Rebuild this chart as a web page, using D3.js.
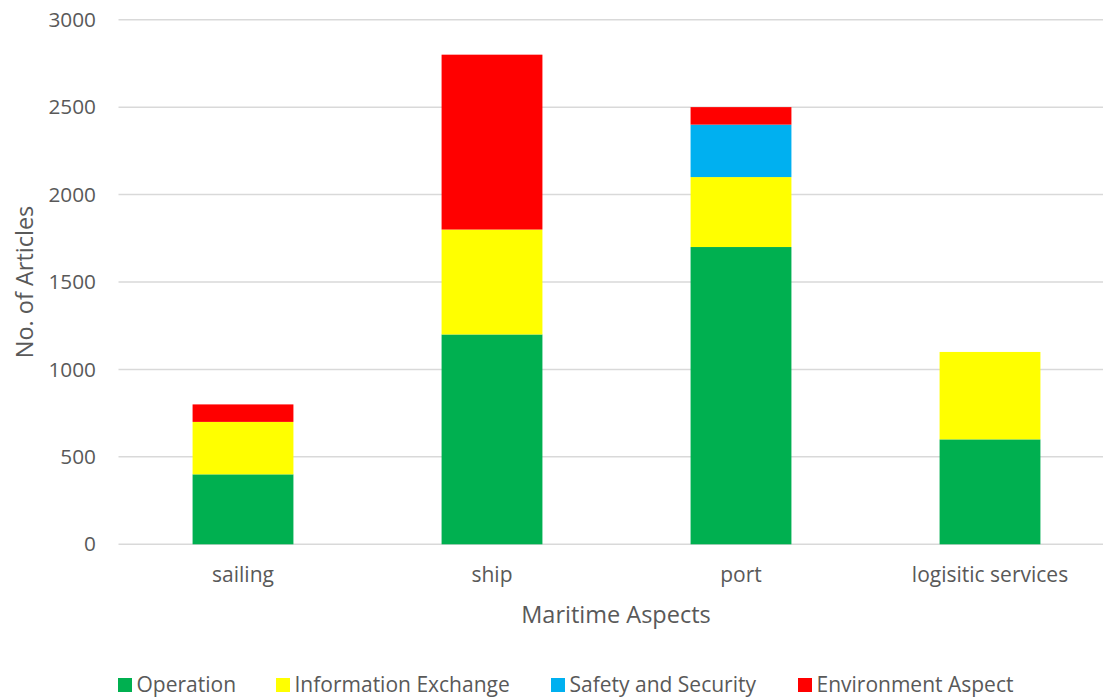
<!DOCTYPE html>
<html>
<head>
<meta charset="utf-8">
<script src="https://cdn.jsdelivr.net/npm/d3@7"></script>
<style>
  html, body { margin: 0; padding: 0; background: #fff; }
  svg { display: block; font-family: "Open Sans", "Noto Sans", sans-serif; }
</style>
</head>
<body>
<svg id="chart" width="1103" height="697"></svg>
<script>
// Articles per maritime aspect, split by topic
const categories = ["sailing", "ship", "port", "logisitic services"];
const seriesNames = ["Operation", "Information Exchange", "Safety and Security", "Environment Aspect"];
const operation = [400, 1200, 1700, 600];
const informationExchange = [300, 600, 400, 500];
const safetyAndSecurity = [0, 0, 300, 0];
const environmentAspect = [100, 1000, 100, 0];
const yTicks = [0, 500, 1000, 1500, 2000, 2500, 3000];
const colors = ["#00b050", "#ffff00", "#00b0f0", "#ff0000"];

const seriesValues = [operation, informationExchange, safetyAndSecurity, environmentAspect];
const rows = categories.map((c, i) => {
  const r = { category: c };
  seriesNames.forEach((s, k) => { r[s] = seriesValues[k][i]; });
  return r;
});

const svg = d3.select("#chart");
const textColor = "#595959";

const x = d3.scaleBand()
  .domain(categories)
  .range([118.5, 1114.5])
  .paddingInner(0.595)
  .paddingOuter(0.2975);

const y = d3.scaleLinear().domain([0, 3000]).range([544.3, 19.7]);

// Horizontal gridlines
svg.append("g")
  .selectAll("line")
  .data(yTicks)
  .join("line")
  .attr("x1", 118.5)
  .attr("x2", 1114.5)
  .attr("y1", d => y(d))
  .attr("y2", d => y(d))
  .attr("stroke", "#d9d9d9")
  .attr("stroke-width", 1.5);

// Y axis labels
const yAxis = d3.axisLeft(y).tickValues(yTicks).tickSize(0).tickPadding(0).tickFormat(d3.format("d"));
const yg = svg.append("g").attr("transform", "translate(96,0)").call(yAxis);
yg.select(".domain").remove();
yg.selectAll("text")
  .attr("fill", textColor)
  .style("font-size", "20.8px")
  .style("font-family", "'Open Sans', sans-serif");

// Stacked bars
const stack = d3.stack().keys(seriesNames);
const layers = stack(rows);

svg.append("g")
  .selectAll("g")
  .data(layers)
  .join("g")
  .attr("fill", (d, i) => colors[i])
  .selectAll("rect")
  .data(d => d.filter(p => p[1] - p[0] > 0))
  .join("rect")
  .attr("x", d => x(d.data.category))
  .attr("width", x.bandwidth())
  .attr("y", d => y(d[1]))
  .attr("height", d => y(d[0]) - y(d[1]));

// X axis category labels
const xAxis = d3.axisBottom(x).tickSize(0).tickPadding(0);
const xg = svg.append("g").attr("transform", "translate(0,567)").call(xAxis);
xg.select(".domain").remove();
xg.selectAll("text")
  .attr("fill", textColor)
  .style("font-size", "21px")
  .style("font-family", "'Open Sans', sans-serif");

// Axis titles
svg.append("text")
  .attr("x", 616)
  .attr("y", 623)
  .attr("text-anchor", "middle")
  .attr("fill", textColor)
  .style("font-size", "23.5px")
  .text("Maritime Aspects");

svg.append("text")
  .attr("transform", "translate(33,282) rotate(-90)")
  .attr("text-anchor", "middle")
  .attr("fill", textColor)
  .style("font-size", "23.5px")
  .text("No. of Articles");

// Legend
const legendX = [118, 276, 551, 798];
const legend = svg.append("g")
  .selectAll("g")
  .data(seriesNames)
  .join("g")
  .attr("transform", (d, i) => `translate(${legendX[i]},0)`);
legend.append("rect")
  .attr("x", 0)
  .attr("y", 678)
  .attr("width", 14)
  .attr("height", 14)
  .attr("fill", (d, i) => colors[i]);
legend.append("text")
  .attr("x", 18.5)
  .attr("y", 692)
  .attr("fill", textColor)
  .style("font-size", "21px")
  .text(d => d);
</script>
</body>
</html>
